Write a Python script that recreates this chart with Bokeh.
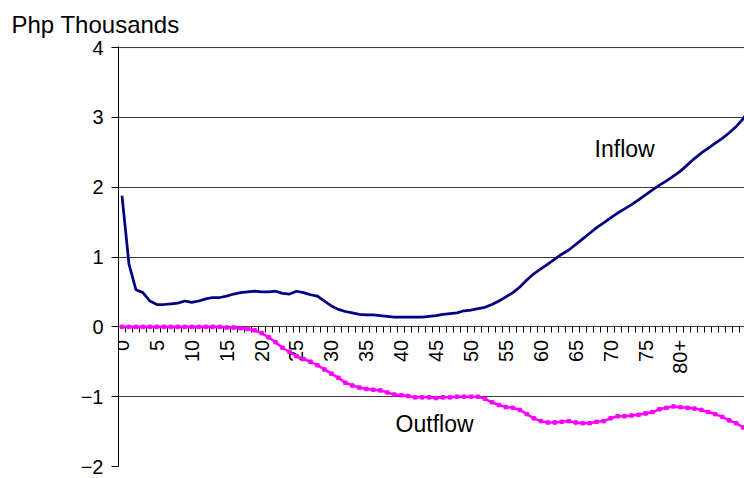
from math import pi
from bokeh.plotting import figure
from bokeh.models import Range1d, FixedTicker, LinearAxis, Label, Span, ColumnDataSource
from bokeh.embed import file_html
from bokeh.resources import INLINE

# ---- data ----
ages = list(range(0, 91))
tick_positions = [0, 5, 10, 15, 20, 25, 30, 35, 40, 45, 50, 55, 60, 65, 70, 75, 80]
tick_labels = ["0", "5", "10", "15", "20", "25", "30", "35", "40", "45",
               "50", "55", "60", "65", "70", "75", "80+"]
y_ticks = [-2, -1, 0, 1, 2, 3, 4]

inflow = [1.88, 0.90, 0.53, 0.49, 0.37, 0.32, 0.32, 0.33, 0.34, 0.37,
          0.35, 0.37, 0.40, 0.42, 0.42, 0.44, 0.47, 0.49, 0.50, 0.51,
          0.50, 0.50, 0.51, 0.48, 0.47, 0.51, 0.49, 0.46, 0.44, 0.37,
          0.30, 0.25, 0.22, 0.20, 0.18, 0.17, 0.17, 0.16, 0.15, 0.14,
          0.14, 0.14, 0.14, 0.14, 0.15, 0.16, 0.18, 0.19, 0.20, 0.23,
          0.24, 0.26, 0.28, 0.32, 0.37, 0.43, 0.49, 0.57, 0.67, 0.76,
          0.83, 0.90, 0.97, 1.04, 1.10, 1.18, 1.26, 1.34, 1.42, 1.49,
          1.56, 1.63, 1.69, 1.75, 1.82, 1.89, 1.96, 2.03, 2.09, 2.16,
          2.23, 2.32, 2.41, 2.49, 2.56, 2.63, 2.70, 2.78, 2.87, 2.98,
          3.15]

outflow = [0.00, 0.00, 0.00, 0.00, 0.00, 0.00, 0.00, 0.00, 0.00, 0.00,
           0.00, 0.00, 0.00, 0.00, 0.00, -0.01, -0.01, -0.02, -0.03, -0.05,
           -0.09, -0.15, -0.22, -0.30, -0.36, -0.42, -0.46, -0.50, -0.55, -0.61,
           -0.67, -0.73, -0.80, -0.84, -0.87, -0.89, -0.90, -0.91, -0.94, -0.97,
           -0.98, -0.99, -1.01, -1.01, -1.01, -1.02, -1.01, -1.01, -1.00, -1.00,
           -1.00, -1.00, -1.03, -1.08, -1.12, -1.15, -1.16, -1.19, -1.25, -1.31,
           -1.35, -1.37, -1.37, -1.36, -1.35, -1.37, -1.38, -1.38, -1.36, -1.35,
           -1.31, -1.28, -1.28, -1.27, -1.26, -1.24, -1.22, -1.18, -1.16, -1.14,
           -1.15, -1.16, -1.17, -1.19, -1.22, -1.25, -1.29, -1.34, -1.38, -1.44,
           -1.50]

src = ColumnDataSource(dict(age=ages, inflow=inflow, outflow=outflow))

FONT = "Liberation Sans"
GRID = "#3a3a3a"

p = figure(width=744, height=478, output_backend="svg", toolbar_location=None,
           x_range=Range1d(-0.5, 89.18), y_range=Range1d(-2.0, 4.015),
           x_axis_location=None, y_axis_location="left",
           min_border_left=118, min_border_right=0,
           min_border_top=0, min_border_bottom=12)
p.outline_line_color = None
p.background_fill_color = "white"
p.border_fill_color = "white"

# title used as the unit caption at top left
p.title.text = "Php Thousands"
p.title.text_font = FONT
p.title.text_font_size = "24px"
p.title.text_font_style = "normal"
p.title.text_color = "black"
p.title.align = "left"
p.title.offset = -107
p.title.standoff = 17

# y axis
p.yaxis.ticker = FixedTicker(ticks=y_ticks)
p.yaxis.major_tick_out = 7
p.yaxis.major_tick_in = 0
p.yaxis.minor_tick_out = 0
p.yaxis.minor_tick_in = 0
p.yaxis.axis_line_color = "black"
p.yaxis.major_tick_line_color = "black"
p.yaxis.major_label_text_font = FONT
p.yaxis.major_label_text_font_size = "20px"
p.yaxis.major_label_text_color = "black"
p.yaxis.major_label_standoff = 8

p.ygrid.ticker = FixedTicker(ticks=y_ticks)
p.ygrid.grid_line_color = GRID
p.ygrid.grid_line_width = 1
p.xgrid.grid_line_color = None
# top grid line drawn explicitly
p.add_layout(Span(location=max(y_ticks), dimension="width",
                  line_color=GRID, line_width=1, level="overlay"))

# x axis crossing at y = 0
xaxis = LinearAxis(fixed_location=0,
                   ticker=FixedTicker(ticks=tick_positions,
                                      minor_ticks=[a - 0.5 for a in ages]),
                   major_label_overrides={t: l for t, l in zip(tick_positions, tick_labels)},
                   major_label_orientation=pi / 2,
                   major_tick_out=0, major_tick_in=0,
                   minor_tick_out=6, minor_tick_in=0,
                   minor_tick_line_color="black",
                   axis_line_color="black",
                   major_label_text_font=FONT,
                   major_label_text_font_size="20px",
                   major_label_text_color="black",
                   major_label_standoff=7)
xaxis.level = "underlay"
p.add_layout(xaxis, "below")

# series
p.line("age", "inflow", source=src, line_color="#000080", line_width=2.75)
p.line("age", "outflow", source=src, line_color="#FF00FF", line_width=2.5)
p.scatter("age", "outflow", source=src, marker="square", size=3.5,
          fill_color="#FF00FF", line_color="#FF00FF")

# series labels
p.add_layout(Label(x=67.7, y=2.55, text="Inflow", text_font=FONT,
                   text_font_size="23px", text_color="black",
                   text_baseline="alphabetic"))
p.add_layout(Label(x=39.2, y=-1.39, text="Outflow", text_font=FONT,
                   text_font_size="23px", text_color="black",
                   text_baseline="alphabetic"))

open("out.html", "w").write(file_html(p, INLINE))
